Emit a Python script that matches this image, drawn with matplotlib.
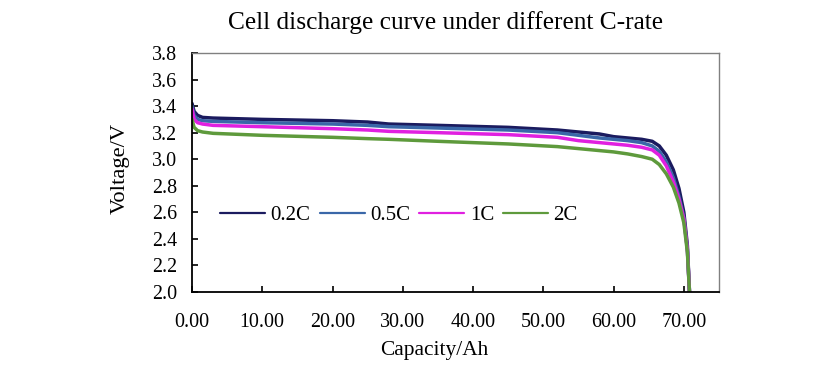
import matplotlib
matplotlib.use("Agg")
import matplotlib.pyplot as plt
from matplotlib.ticker import FormatStrFormatter, MultipleLocator

plt.rcParams['font.family'] = ['Liberation Serif', 'DejaVu Serif']

capacity = [0, 0.3, 0.8, 1.5, 3, 10, 20, 25, 28, 35, 45, 52, 55, 58, 60, 62, 64,
            65.5, 66.5, 67.5, 68.5, 69.3, 70, 70.5, 70.8]
v_02c = [3.42, 3.36, 3.33, 3.315, 3.31, 3.30, 3.29, 3.28, 3.265, 3.255, 3.24, 3.22,
         3.205, 3.19, 3.17, 3.16, 3.15, 3.135, 3.10, 3.03, 2.92, 2.78, 2.60, 2.35, 2.0]
v_05c = [3.40, 3.33, 3.30, 3.29, 3.285, 3.275, 3.265, 3.255, 3.245, 3.235, 3.22, 3.20,
         3.18, 3.16, 3.15, 3.14, 3.125, 3.10, 3.06, 2.98, 2.86, 2.72, 2.56, 2.32, 2.0]
v_1c = [3.38, 3.30, 3.275, 3.265, 3.255, 3.245, 3.23, 3.22, 3.21, 3.20, 3.185, 3.165,
        3.14, 3.125, 3.115, 3.105, 3.09, 3.07, 3.03, 2.95, 2.83, 2.70, 2.55, 2.32, 2.0]
v_2c = [3.30, 3.24, 3.215, 3.205, 3.195, 3.18, 3.165, 3.155, 3.15, 3.135, 3.115, 3.095,
        3.08, 3.065, 3.055, 3.04, 3.02, 3.0, 2.96, 2.89, 2.79, 2.67, 2.52, 2.30, 2.0]

labels = ['0.2C', '0.5C', '1C', '2C']
colors = ['#1b1b5f', '#3a67a8', '#e020e0', '#5e9a3c']
series = [v_02c, v_05c, v_1c, v_2c]

fig = plt.figure(figsize=(8.4, 3.68), dpi=100)
ax = fig.add_axes([192/840, 1-292/368, (719-192)/840, (292-53)/368])

for v, lab, c in zip(series, labels, colors):
    ax.plot(capacity, v, color=c, lw=2.5, label=lab, solid_capstyle='round')

ax.set_xlim(0, 75)
ax.set_ylim(2.0, 3.8)
ax.xaxis.set_major_locator(MultipleLocator(10))
ax.yaxis.set_major_locator(MultipleLocator(0.2))
ax.xaxis.set_major_formatter(FormatStrFormatter('%.2f'))
ax.yaxis.set_major_formatter(FormatStrFormatter('%.1f'))
ax.tick_params(direction='in', length=4.5, width=1.2, labelsize=14.4,
               top=False, right=False, colors='black')
ax.tick_params(axis='x', pad=15)
ax.tick_params(axis='y', pad=10.5)
for s in ['left', 'bottom']:
    ax.spines[s].set_color('black')
    ax.spines[s].set_linewidth(1.3)
for s in ['top', 'right']:
    ax.spines[s].set_color('#808080')
    ax.spines[s].set_linewidth(1.0)

leg = ax.legend(ncol=4, frameon=False, fontsize=15, loc='center',
                bbox_to_anchor=(0.393, 0.322), handlelength=2.15,
                handletextpad=0.26, columnspacing=0.45)
for h in leg.get_lines():
    h.set_linewidth(1.6)

fig.text(445/840, 1-29/368, 'Cell discharge curve under different C-rate',
         ha='center', va='baseline', fontsize=18.3)
fig.text(434/840, 1-350/368, 'Capacity/Ah', ha='center', va='center', fontsize=15.4)
fig.text(120.5/840, 1-168/368, 'Voltage/V', ha='center', va='center',
         rotation=90, fontsize=16.2)

fig.savefig('out.png', dpi=100)
